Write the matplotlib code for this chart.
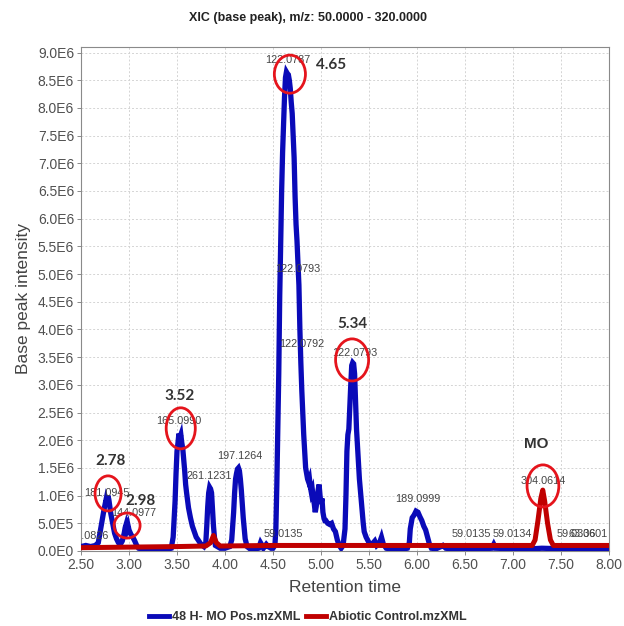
import numpy as np
import matplotlib
matplotlib.use("Agg")
import matplotlib.pyplot as plt
from matplotlib.patches import Ellipse
from matplotlib.lines import Line2D
from matplotlib.ticker import FuncFormatter, MultipleLocator

plt.rcParams['font.family'] = ['Liberation Sans', 'DejaVu Sans']

# ---------------- data ----------------
title = "XIC (base peak), m/z: 50.0000 - 320.0000"
x_label = "Retention time"
y_label = "Base peak intensity"
series_names = ["48 H- MO Pos.mzXML", "Abiotic Control.mzXML"]

# blue trace: retention time (min) and intensity (x1E6)
blue_rt = [2.50, 2.55, 2.60, 2.65, 2.68, 2.70, 2.72, 2.74, 2.76, 2.77, 2.78, 2.79, 2.80, 2.81,
           2.83, 2.85, 2.87, 2.89, 2.91, 2.93, 2.95, 2.96, 2.97, 2.98, 2.99, 3.00, 3.02, 3.04,
           3.06, 3.08, 3.10, 3.15, 3.20, 3.30, 3.40, 3.44, 3.46, 3.48, 3.49, 3.50, 3.51, 3.52,
           3.53, 3.54, 3.55, 3.56, 3.57, 3.58, 3.59, 3.60, 3.62, 3.64, 3.66, 3.68, 3.70, 3.72,
           3.75, 3.78, 3.80, 3.81, 3.82, 3.83, 3.84, 3.85, 3.86, 3.87, 3.88, 3.89, 3.90, 3.95,
           4.00, 4.05, 4.07, 4.09, 4.10, 4.11, 4.12, 4.13, 4.14, 4.15, 4.16, 4.17, 4.18, 4.19,
           4.20, 4.21, 4.23, 4.26, 4.30, 4.35, 4.37, 4.38, 4.40, 4.43, 4.45, 4.48, 4.50, 4.52,
           4.53, 4.54, 4.55, 4.56, 4.57, 4.58, 4.59, 4.60, 4.61, 4.62, 4.63, 4.64, 4.65, 4.66,
           4.67, 4.68, 4.69, 4.70, 4.71, 4.72, 4.73, 4.74, 4.75, 4.76, 4.77, 4.78, 4.79, 4.80,
           4.81, 4.82, 4.83, 4.84, 4.85, 4.86, 4.87, 4.88, 4.89, 4.90, 4.91, 4.92, 4.93, 4.94,
           4.95, 4.96, 4.97, 4.98, 4.99, 5.00, 5.01, 5.02, 5.03, 5.04, 5.05, 5.07, 5.09, 5.11,
           5.13, 5.15, 5.17, 5.19, 5.21, 5.23, 5.25, 5.26, 5.27, 5.28, 5.29, 5.30, 5.31, 5.32,
           5.33, 5.34, 5.35, 5.36, 5.37, 5.38, 5.39, 5.40, 5.41, 5.42, 5.43, 5.44, 5.45, 5.47,
           5.50, 5.53, 5.56, 5.58, 5.61, 5.63, 5.65, 5.68, 5.75, 5.85, 5.90, 5.92, 5.93, 5.95,
           5.97, 5.99, 6.01, 6.03, 6.05, 6.07, 6.09, 6.11, 6.13, 6.15, 6.20, 6.25, 6.27, 6.30,
           6.40, 6.60, 6.78, 6.80, 6.82, 7.00, 7.20, 7.30, 7.50, 8.00]
blue_int = [0.08, 0.10, 0.08, 0.10, 0.15, 0.35, 0.55, 0.75, 0.92, 0.85, 1.00, 0.93, 0.80, 0.68,
            0.50, 0.32, 0.22, 0.15, 0.12, 0.18, 0.32, 0.42, 0.48, 0.40, 0.46, 0.38, 0.30, 0.25,
            0.18, 0.10, 0.05, 0.03, 0.02, 0.02, 0.03, 0.05, 0.25, 0.90, 1.40, 1.80, 1.95, 2.12,
            2.05, 2.10, 1.95, 1.85, 1.65, 1.45, 1.20, 1.05, 0.78, 0.60, 0.45, 0.35, 0.25, 0.20,
            0.12, 0.08, 0.15, 0.45, 0.80, 1.05, 1.15, 1.12, 1.05, 0.75, 0.45, 0.25, 0.10, 0.05,
            0.05, 0.08, 0.20, 0.70, 1.05, 1.30, 1.40, 1.48, 1.50, 1.45, 1.30, 1.10, 0.85, 0.60,
            0.40, 0.22, 0.08, 0.04, 0.03, 0.05, 0.15, 0.12, 0.05, 0.12, 0.08, 0.05, 0.05, 0.10,
            0.40, 1.20, 2.20, 3.20, 4.60, 5.60, 6.50, 7.20, 7.70, 8.20, 8.55, 8.65, 8.62, 8.60,
            8.50, 8.35, 8.10, 7.90, 7.50, 7.10, 6.40, 5.90, 5.60, 5.20, 4.80, 4.00, 3.40, 2.90,
            2.50, 2.10, 1.80, 1.50, 1.40, 1.30, 1.25, 1.30, 1.15, 1.05, 1.10, 0.95, 0.85, 0.70,
            0.80, 0.95, 1.10, 1.20, 1.00, 0.85, 0.95, 0.70, 0.60, 0.55, 0.55, 0.50, 0.48, 0.50,
            0.40, 0.35, 0.20, 0.10, 0.05, 0.10, 0.40, 1.00, 1.80, 2.10, 2.20, 2.60, 3.00, 3.35,
            3.40, 3.38, 3.20, 2.70, 2.20, 1.90, 1.60, 1.30, 1.10, 0.90, 0.70, 0.50, 0.35, 0.25,
            0.15, 0.12, 0.18, 0.10, 0.15, 0.25, 0.12, 0.05, 0.03, 0.03, 0.05, 0.15, 0.40, 0.60,
            0.65, 0.72, 0.70, 0.62, 0.55, 0.45, 0.38, 0.25, 0.12, 0.05, 0.04, 0.08, 0.10, 0.05,
            0.03, 0.03, 0.05, 0.12, 0.05, 0.04, 0.04, 0.05, 0.04, 0.04]

# red trace (abiotic control)
red_rt = [2.50, 3.00, 3.50, 3.80, 3.85, 3.88, 3.91, 3.95, 4.50, 5.00, 6.00, 7.00, 7.20,
          7.23, 7.26, 7.29, 7.31, 7.33, 7.36, 7.39, 7.42, 8.00]
red_int = [0.06, 0.07, 0.08, 0.09, 0.15, 0.28, 0.15, 0.09, 0.10, 0.10, 0.10, 0.10, 0.10,
           0.20, 0.55, 0.95, 1.10, 0.90, 0.50, 0.20, 0.10, 0.10]

# small m/z labels: text, rt, intensity (x1E6)
mz_text = ["122.0787", "122.0793", "122.0792", "122.0793", "165.0990", "181.0945",
           "144.0977", "261.1231", "197.1264", "59.0135", "189.0999", "59.0135",
           "59.0134", "304.0614", "59.0336", "63.0601"]
mz_rt = [4.655, 4.76, 4.80, 5.35, 3.52, 2.77, 3.05, 3.84, 4.15, 4.61, 6.01, 6.57,
         6.99, 7.31, 7.66, 7.78]
mz_int = [8.86, 5.10, 3.74, 3.58, 2.34, 1.04, 0.69, 1.36, 1.72, 0.30, 0.94, 0.30,
          0.30, 1.27, 0.30, 0.30]

# bold retention time annotations
rt_text = ["4.65", "5.34", "3.52", "2.78", "2.98", "MO"]
rt_x = [5.11, 5.33, 3.53, 2.81, 3.12, 7.24]
rt_y = [8.77, 4.10, 2.80, 1.63, 0.90, 1.94]

# red circles: centre rt, centre intensity, width (min), height (x1E6)
circ_x = [4.676, 5.324, 3.539, 2.782, 2.980, 7.312]
circ_y = [8.61, 3.45, 2.215, 1.04, 0.46, 1.175]
circ_w = [0.324, 0.344, 0.303, 0.271, 0.271, 0.331]
circ_h = [0.687, 0.76, 0.741, 0.633, 0.452, 0.76]

# ---------------- figure ----------------
fig = plt.figure(figsize=(6.24, 6.26), dpi=100)
ax = fig.add_axes([81/624, 75/626, 528/624, 504/626])

E6 = 1e6
blue = '#0a0ab8'
red = '#c00000'
ax.plot(blue_rt, np.array(blue_int) * E6, color=blue, lw=3.8, solid_joinstyle='miter', zorder=3)
ax.plot(red_rt, np.array(red_int) * E6, color=red, lw=3.6, zorder=4)

ax.set_xlim(2.5, 8.0)
ax.set_ylim(0, 9.1e6)
ax.xaxis.set_major_locator(MultipleLocator(0.5))
ax.yaxis.set_major_locator(MultipleLocator(0.5e6))


def sci(v, pos):
    if v == 0:
        return "0.0E0"
    e = int(np.floor(np.log10(abs(v)) + 1e-9))
    m = v / 10 ** e
    return f"{m:.1f}E{e}"


ax.yaxis.set_major_formatter(FuncFormatter(sci))
ax.xaxis.set_major_formatter(FuncFormatter(lambda v, p: f"{v:.2f}"))

ax.grid(True, color='#d4d4d4', linestyle=(0, (2, 2)), linewidth=0.7)
ax.set_axisbelow(True)
for s in ax.spines.values():
    s.set_color('#8a8a8a')
    s.set_linewidth(0.8)
ax.tick_params(axis='both', colors='#8a8a8a', labelcolor='#505050', labelsize=10,
               length=3, width=0.7, pad=2)

ax.set_xlabel(x_label, fontsize=12.5, color='#444444', labelpad=6)
ax.set_ylabel(y_label, fontsize=12.5, color='#444444', labelpad=5)
fig.text(0.493, 1 - 18/626, title, ha='center', va='center', fontsize=9,
         fontweight='bold', color='#222222')

for t, x, y in zip(mz_text, mz_rt, mz_int):
    ax.text(x, y * E6, t, ha='center', va='center', fontsize=7.8, color='#444444',
            zorder=6, clip_on=True)
ax.text(2.785, 0.27 * E6, "130.0826", ha='right', va='center', fontsize=7.8,
        color='#444444', zorder=6, clip_on=True)

for t, x, y in zip(rt_text, rt_x, rt_y):
    fam = ['Liberation Sans', 'DejaVu Sans'] if t == "MO" else ['Lato', 'DejaVu Sans']
    ax.text(x, y * E6, t, ha='center', va='center', fontsize=11, fontweight='bold',
            color='#333333', family=fam, zorder=7)

for x, y, w, h in zip(circ_x, circ_y, circ_w, circ_h):
    ax.add_patch(Ellipse((x, y * E6), w, h * E6, fill=False, edgecolor='#e5141c',
                         lw=2.0, zorder=8))

handles = [Line2D([], [], color=blue, lw=3.5), Line2D([], [], color=red, lw=3.5)]
leg = fig.legend(handles, series_names, loc='center', bbox_to_anchor=(0.493, 1 - 617/626),
                 ncol=2, frameon=False, handlelength=1.6, handletextpad=0.2,
                 columnspacing=0.5, prop={'size': 9, 'weight': 'bold'})
for txt in leg.get_texts():
    txt.set_color('#333333')

fig.savefig("out.png", dpi=100)
